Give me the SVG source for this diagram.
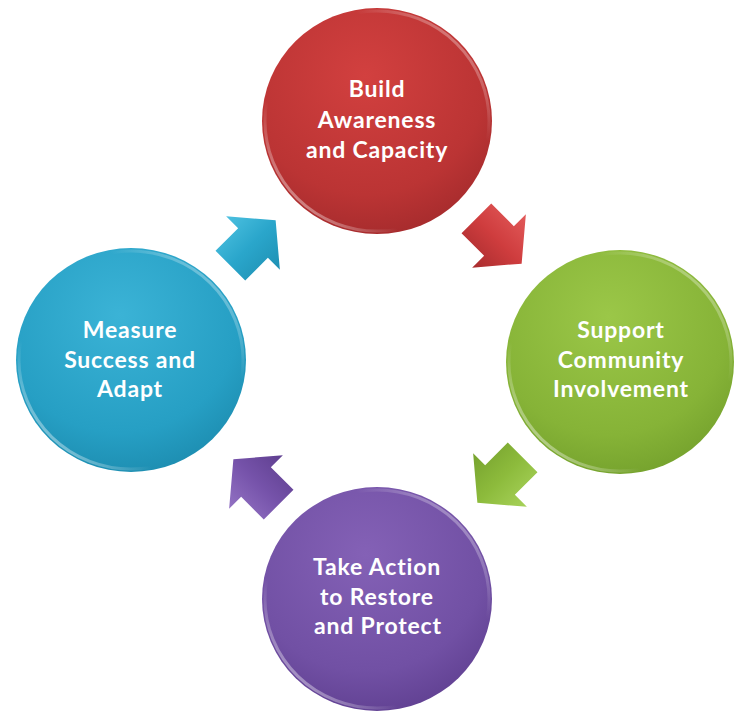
<svg xmlns="http://www.w3.org/2000/svg" width="738" height="713" viewBox="0 0 738 713">
  <style>
    .lbl { font-family: Lato, "Open Sans", "Liberation Sans", sans-serif; font-weight: bold; font-size: 23px; letter-spacing: 0.8px; fill: #ffffff; text-anchor: middle; }
    .rim { fill: none; stroke-width: 3; }
  </style>
  <defs>
    <radialGradient id="gRed" cx="0.45" cy="0.3" r="0.75">
      <stop offset="0" stop-color="#d2403f"/>
      <stop offset="0.7" stop-color="#bb3434"/>
      <stop offset="1" stop-color="#a32a2c"/>
    </radialGradient>
    <radialGradient id="gGreen" cx="0.45" cy="0.3" r="0.75">
      <stop offset="0" stop-color="#9bc748"/>
      <stop offset="0.7" stop-color="#86b337"/>
      <stop offset="1" stop-color="#73a02c"/>
    </radialGradient>
    <radialGradient id="gPurple" cx="0.45" cy="0.3" r="0.75">
      <stop offset="0" stop-color="#8461b6"/>
      <stop offset="0.7" stop-color="#7150a4"/>
      <stop offset="1" stop-color="#5f3f90"/>
    </radialGradient>
    <radialGradient id="gBlue" cx="0.45" cy="0.3" r="0.75">
      <stop offset="0" stop-color="#3bb3d6"/>
      <stop offset="0.7" stop-color="#269fc4"/>
      <stop offset="1" stop-color="#1c8bae"/>
    </radialGradient>
    <linearGradient id="rimGrad" x1="0" y1="1" x2="1" y2="0">
      <stop offset="0" stop-color="#ffffff" stop-opacity="0.75"/>
      <stop offset="0.3" stop-color="#ffffff" stop-opacity="0"/>
      <stop offset="0.7" stop-color="#ffffff" stop-opacity="0"/>
      <stop offset="1" stop-color="#ffffff" stop-opacity="0.6"/>
    </linearGradient>
    <linearGradient id="aRed" x1="0" y1="0" x2="0" y2="1">
      <stop offset="0" stop-color="#e25a5a"/>
      <stop offset="0.5" stop-color="#cf3d3e"/>
      <stop offset="1" stop-color="#a82c2e"/>
    </linearGradient>
    <linearGradient id="aGreen" x1="0" y1="0" x2="0" y2="1">
      <stop offset="0" stop-color="#a7d25a"/>
      <stop offset="0.5" stop-color="#8dbb3c"/>
      <stop offset="1" stop-color="#76a22e"/>
    </linearGradient>
    <linearGradient id="aPurple" x1="0" y1="0" x2="0" y2="1">
      <stop offset="0" stop-color="#9372c4"/>
      <stop offset="0.5" stop-color="#7653aa"/>
      <stop offset="1" stop-color="#5f3f90"/>
    </linearGradient>
    <linearGradient id="aBlue" x1="0" y1="0" x2="0" y2="1">
      <stop offset="0" stop-color="#4cc0e0"/>
      <stop offset="0.5" stop-color="#2aa6cb"/>
      <stop offset="1" stop-color="#1e90b3"/>
    </linearGradient>
    <path id="arrowShape" d="M -32,-21 L 0,-21 L 0,-38 L 32,0 L 0,38 L 0,21 L -32,21 Z"/>
  </defs>

  <g id="connectors">
    <use href="#arrowShape" fill="url(#aRed)" transform="translate(499,241) rotate(45)"/>
    <use href="#arrowShape" fill="url(#aGreen)" transform="translate(500,480) rotate(135)"/>
    <use href="#arrowShape" fill="url(#aPurple)" transform="translate(256,482) rotate(225)"/>
    <use href="#arrowShape" fill="url(#aBlue)" transform="translate(253,243) rotate(315)"/>
  </g>

  <g id="node-build">
    <ellipse cx="377" cy="121" rx="115" ry="113" fill="url(#gRed)"/>
    <ellipse cx="377" cy="121" rx="112" ry="110" class="rim" stroke="url(#rimGrad)"/>
    <text class="lbl" x="377" y="97">Build</text>
    <text class="lbl" x="377" y="128">Awareness</text>
    <text class="lbl" x="377" y="158">and Capacity</text>
  </g>

  <g id="node-support">
    <ellipse cx="620" cy="362" rx="114" ry="112" fill="url(#gGreen)"/>
    <ellipse cx="620" cy="362" rx="111" ry="109" class="rim" stroke="url(#rimGrad)"/>
    <text class="lbl" x="621" y="338">Support</text>
    <text class="lbl" x="621" y="368">Community</text>
    <text class="lbl" x="621" y="397">Involvement</text>
  </g>

  <g id="node-action">
    <ellipse cx="377" cy="599" rx="115" ry="112" fill="url(#gPurple)"/>
    <ellipse cx="377" cy="599" rx="112" ry="109" class="rim" stroke="url(#rimGrad)"/>
    <text class="lbl" x="377" y="575">Take Action</text>
    <text class="lbl" x="377" y="605">to Restore</text>
    <text class="lbl" x="378" y="634">and Protect</text>
  </g>

  <g id="node-measure">
    <ellipse cx="131" cy="360" rx="115" ry="112" fill="url(#gBlue)"/>
    <ellipse cx="131" cy="360" rx="112" ry="109" class="rim" stroke="url(#rimGrad)"/>
    <text class="lbl" x="130" y="338">Measure</text>
    <text class="lbl" x="130" y="368">Success and</text>
    <text class="lbl" x="130" y="397">Adapt</text>
  </g>
</svg>
